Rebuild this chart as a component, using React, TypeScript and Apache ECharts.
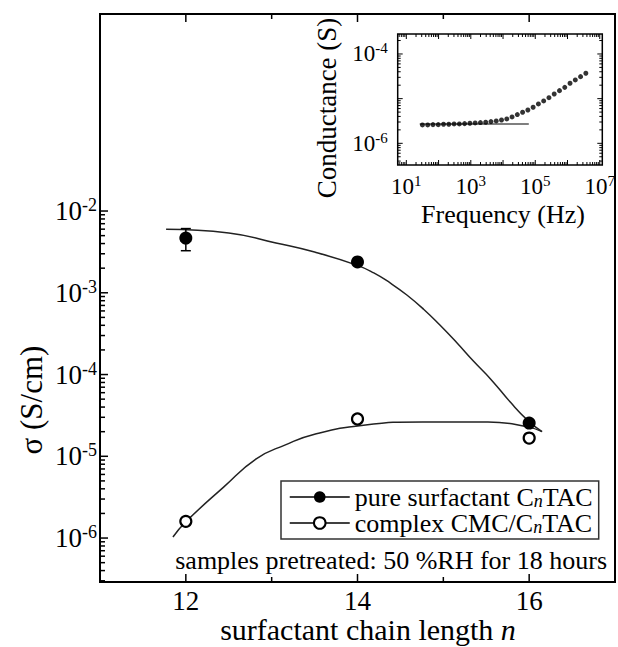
import React, { useEffect, useRef } from "react";
import * as echarts from "echarts";

const FONT = "Liberation Serif, Times New Roman, serif";

// ---------- main plot data ----------
const chainLength = [12, 14, 16];
const pureSigma = [4.67e-3, 2.38e-3, 2.55e-5];
const pureErrLow = [3.27e-3];
const pureErrHigh = [6.1e-3];
const complexSigma = [1.6e-6, 2.86e-5, 1.67e-5];

const pureFitN = [11.77, 12.5, 13.05, 13.5, 13.99, 14.19, 14.38, 14.575, 14.77, 14.96, 15.16, 15.35, 15.56, 15.78, 15.98, 16.15];
const pureFitSigma = [6.0e-3, 5.4e-3, 4.07e-3, 3.15e-3, 2.18e-3, 1.75e-3, 1.32e-3, 9.4e-4, 6.3e-4, 4.03e-4, 2.43e-4, 1.46e-4, 8.6e-5, 4.6e-5, 2.77e-5, 2.0e-5];

const complexFitN = [11.85, 12.0, 12.44, 12.82, 13.16, 13.5, 14.07, 14.76, 15.52, 15.98, 16.15];
const complexFitSigma = [1.03e-6, 1.58e-6, 4.2e-6, 9.3e-6, 1.38e-5, 1.86e-5, 2.4e-5, 2.63e-5, 2.63e-5, 2.29e-5, 2.0e-5];

const mainXMin = 11;
const mainXMax = 17;
const mainYMin = 2.9e-7;
const mainYMax = 2.57;
const mainXMajorTicks = [12, 14, 16];
const mainXMinorTicks = [13, 15];
const mainYMajorTicks = [1e-6, 1e-5, 1e-4, 1e-3, 1e-2];
const mainYLabelExps = [-6, -5, -4, -3, -2];

// ---------- inset data ----------
const frequencyHz = [31.6, 46.1, 67.1, 97.8, 142.6, 207.7, 302.7, 441, 642.7, 936.5, 1365, 1989, 2897, 4222, 6152, 8964, 13062, 19033, 27733, 40411, 58884, 85800, 125026, 182180, 265460, 386810, 563640, 821300, 1196700, 1743800, 2541000, 3702600];
const conductanceS = [2.58e-6, 2.58e-6, 2.62e-6, 2.62e-6, 2.67e-6, 2.67e-6, 2.72e-6, 2.72e-6, 2.76e-6, 2.81e-6, 2.86e-6, 2.91e-6, 2.96e-6, 3.06e-6, 3.17e-6, 3.33e-6, 3.51e-6, 3.9e-6, 4.4e-6, 4.96e-6, 5.58e-6, 6.41e-6, 7.61e-6, 8.89e-6, 1.05e-5, 1.27e-5, 1.51e-5, 1.79e-5, 2.21e-5, 2.62e-5, 3.11e-5, 3.7e-5];
const plateauFreq = [26, 6.3e4];
const plateauG = [2.7e-6, 2.7e-6];

const insetXMin = 5.4;
const insetXMax = 1.2e7;
const insetYMin = 3.27e-7;
const insetYMax = 2.8e-4;
const insetXMajorTicks = [10, 100, 1e3, 1e4, 1e5, 1e6, 1e7];
const insetYMajorTicks = [1e-6, 1e-5, 1e-4];
const insetXLabelExps = [1, 3, 5, 7];
const insetYLabelExps = [-6, -4];

const MANTISSAS = [2, 3, 4, 5, 6, 7, 8, 9];
function logMinor(lo: number, hi: number, decades: number[]) {
  const out: number[] = [];
  decades.forEach((d) => MANTISSAS.forEach((m) => {
    const v = m * Math.pow(10, d);
    if (v > lo && v < hi) out.push(v);
  }));
  return out;
}

const mainYMinorTicks = logMinor(mainYMin, 1e-2, [-7, -6, -5, -4, -3]);
const insetXMinorTicks = logMinor(insetXMin, insetXMax, [0, 1, 2, 3, 4, 5, 6]);
const insetYMinorTicks = logMinor(insetYMin, insetYMax, [-7, -6, -5, -4]);

function supFormatter(exps: number[]) {
  return (v: number) => {
    const e = Math.log10(v);
    const r = Math.round(e);
    if (Math.abs(e - r) > 1e-6 || exps.indexOf(r) < 0) return "";
    return `{b|10}{s|${r}}`;
  };
}

const tickRender = (lw: number) => (params: any, api: any) => {
  const p = api.coord([api.value(0), api.value(1)]);
  return {
    type: "line",
    shape: { x1: p[0], y1: p[1], x2: p[0] + api.value(2), y2: p[1] + api.value(3) },
    style: { stroke: "#000", lineWidth: lw },
  };
};

export default function App() {
  const ref = useRef<HTMLDivElement>(null);
  useEffect(() => {
    document.body.style.margin = "0";
    const chart = echarts.init(ref.current!, undefined, { renderer: "svg" });

    const mainTicks: number[][] = [];
    mainYMajorTicks.forEach((v) => mainTicks.push([mainXMin, v, 8, 0]));
    mainYMinorTicks.forEach((v) => mainTicks.push([mainXMin, v, 5, 0]));
    mainXMajorTicks.forEach((v) => {
      mainTicks.push([v, mainYMin, 0, -8]);
      mainTicks.push([v, mainYMax, 0, 8]);
    });
    mainXMinorTicks.forEach((v) => {
      mainTicks.push([v, mainYMin, 0, -5]);
      mainTicks.push([v, mainYMax, 0, 5]);
    });

    const insetTicks: number[][] = [];
    insetXMajorTicks.forEach((v) => {
      insetTicks.push([v, insetYMin, 0, -5]);
      insetTicks.push([v, insetYMax, 0, 5]);
    });
    insetXMinorTicks.forEach((v) => {
      insetTicks.push([v, insetYMin, 0, -3]);
      insetTicks.push([v, insetYMax, 0, 3]);
    });
    insetYMajorTicks.forEach((v) => {
      insetTicks.push([insetXMin, v, 5, 0]);
      insetTicks.push([insetXMax, v, -5, 0]);
    });
    insetYMinorTicks.forEach((v) => {
      insetTicks.push([insetXMin, v, 3, 0]);
      insetTicks.push([insetXMax, v, -3, 0]);
    });

    const mainRich = {
      b: { fontSize: 27, fontFamily: FONT, color: "#000", lineHeight: 30 },
      s: { fontSize: 18, fontFamily: FONT, color: "#000", lineHeight: 18, verticalAlign: "top" },
    };
    const insetRich = {
      b: { fontSize: 23, fontFamily: FONT, color: "#000", lineHeight: 26 },
      s: { fontSize: 15, fontFamily: FONT, color: "#000", lineHeight: 15, verticalAlign: "top" },
    };

    const legendRich = {
      t: { fontSize: 26, fontFamily: FONT, color: "#000", lineHeight: 25 },
      sub: { fontSize: 18, fontFamily: FONT, fontStyle: "italic", color: "#000", lineHeight: 25, verticalAlign: "bottom" },
    };

    const option: any = {
      animation: false,
      backgroundColor: "#fff",
      textStyle: { fontFamily: FONT },
      grid: [
        { left: 100, top: 14, width: 527, height: 568, show: true, borderColor: "#000", borderWidth: 2, backgroundColor: "transparent" },
        { left: 397.7, top: 34, width: 206.3, height: 131, show: true, borderColor: "#000", borderWidth: 1.5, backgroundColor: "#fff", z: 5 },
      ],
      xAxis: [
        {
          type: "value", gridIndex: 0, min: mainXMin, max: mainXMax, interval: 1,
          axisLine: { show: false }, axisTick: { show: false }, splitLine: { show: false },
          axisLabel: {
            margin: 5, color: "#000", fontSize: 27, fontFamily: FONT,
            formatter: (v: number) => (mainXMajorTicks.indexOf(v) >= 0 ? String(v) : ""),
          },
        },
        {
          type: "log", gridIndex: 1, min: insetXMin, max: insetXMax, logBase: 10,
          axisLine: { show: false }, axisTick: { show: false }, splitLine: { show: false },
          axisLabel: { margin: 8, fontFamily: FONT, formatter: supFormatter(insetXLabelExps), rich: insetRich },
        },
      ],
      yAxis: [
        {
          type: "log", gridIndex: 0, min: mainYMin, max: mainYMax, logBase: 10,
          axisLine: { show: false }, axisTick: { show: false }, splitLine: { show: false },
          axisLabel: { margin: 3, fontFamily: FONT, formatter: supFormatter(mainYLabelExps), rich: mainRich },
        },
        {
          type: "log", gridIndex: 1, min: insetYMin, max: insetYMax, logBase: 10,
          axisLine: { show: false }, axisTick: { show: false }, splitLine: { show: false },
          axisLabel: { margin: 10, fontFamily: FONT, formatter: supFormatter(insetYLabelExps), rich: insetRich },
        },
      ],
      legend: {
        data: ["pure surfactant CnTAC", "complex CMC/CnTAC"],
        orient: "vertical", left: 281, top: 481,
        itemWidth: 60, itemHeight: 14.5, itemGap: 0,
        padding: [3, 6, 3, 8],
        borderColor: "#333", borderWidth: 1.5, backgroundColor: "#fff",
        selectedMode: false,
        lineStyle: { color: "#000", width: 1.5, opacity: 1 },
        formatter: (name: string) =>
          name.startsWith("pure") ? "{t|pure surfactant C}{sub|n}{t|TAC}" : "{t|complex CMC/C}{sub|n}{t|TAC}",
        textStyle: { color: "#000", fontSize: 26, fontFamily: FONT, rich: legendRich },
      },
      graphic: [
        {
          type: "text", x: 607, y: 560,
          style: { text: "samples pretreated: 50 %RH for 18 hours", align: "right", verticalAlign: "middle", fontSize: 26, fontFamily: FONT, fill: "#000" },
        },
        {
          type: "text", x: 368, y: 629,
          style: {
            text: "{a|surfactant chain length }{i|n}", align: "center", verticalAlign: "middle",
            fontSize: 30, fontFamily: FONT,
            rich: {
              a: { fontSize: 30, fontFamily: FONT, fill: "#000" },
              i: { fontSize: 30, fontFamily: FONT, fontStyle: "italic", fill: "#000" },
            },
          },
        },
        {
          type: "text", x: 31, y: 400, rotation: Math.PI / 2,
          style: { text: "σ (S/cm)", align: "center", verticalAlign: "middle", fontSize: 31, fontFamily: FONT, fill: "#000" },
        },
        {
          type: "text", x: 327, y: 108, rotation: Math.PI / 2,
          style: { text: "Conductance (S)", align: "center", verticalAlign: "middle", fontSize: 27, fontFamily: FONT, fill: "#000" },
        },
        {
          type: "text", x: 503, y: 214,
          style: { text: "Frequency (Hz)", align: "center", verticalAlign: "middle", fontSize: 26, fontFamily: FONT, fill: "#000" },
        },
      ],
      series: [
        {
          type: "line", name: "pure fit", xAxisIndex: 0, yAxisIndex: 0, smooth: 0.5, showSymbol: false,
          lineStyle: { color: "#222", width: 1.5 }, data: pureFitN.map((n, i) => [n, pureFitSigma[i]]), z: 2,
        },
        {
          type: "line", name: "complex fit", xAxisIndex: 0, yAxisIndex: 0, smooth: 0.5, showSymbol: false,
          lineStyle: { color: "#222", width: 1.5 }, data: complexFitN.map((n, i) => [n, complexFitSigma[i]]), z: 2,
        },
        {
          type: "custom", name: "error", xAxisIndex: 0, yAxisIndex: 0,
          dimensions: ["x", "lo", "hi"], encode: { x: 0, y: [1, 2] },
          data: pureErrLow.map((lo, i) => [chainLength[i], lo, pureErrHigh[i]]),
          renderItem: (params: any, api: any) => {
            const lo = api.coord([api.value(0), api.value(1)]);
            const hi = api.coord([api.value(0), api.value(2)]);
            const w = 5;
            const st = { stroke: "#000", lineWidth: 1.5 };
            return {
              type: "group",
              children: [
                { type: "line", shape: { x1: lo[0], y1: lo[1], x2: hi[0], y2: hi[1] }, style: st },
                { type: "line", shape: { x1: lo[0] - w, y1: lo[1], x2: lo[0] + w, y2: lo[1] }, style: st },
                { type: "line", shape: { x1: hi[0] - w, y1: hi[1], x2: hi[0] + w, y2: hi[1] }, style: st },
              ],
            };
          },
          z: 3,
        },
        {
          type: "line", name: "pure surfactant CnTAC", xAxisIndex: 0, yAxisIndex: 0,
          symbol: "circle", symbolSize: 13, lineStyle: { opacity: 0, width: 0 },
          itemStyle: { color: "#000" },
          data: chainLength.map((n, i) => [n, pureSigma[i]]), z: 4,
        },
        {
          type: "line", name: "complex CMC/CnTAC", xAxisIndex: 0, yAxisIndex: 0,
          symbol: "circle", symbolSize: 11, lineStyle: { opacity: 0, width: 0 },
          itemStyle: { color: "#fff", borderColor: "#000", borderWidth: 2.2 },
          data: chainLength.map((n, i) => [n, complexSigma[i]]), z: 4,
        },
        {
          type: "custom", name: "mainTicks", xAxisIndex: 0, yAxisIndex: 0,
          dimensions: ["x", "y", "dx", "dy"], encode: { x: 0, y: 1 },
          data: mainTicks, renderItem: tickRender(1.5), silent: true, z: 6,
        },
        {
          type: "line", name: "plateau", xAxisIndex: 1, yAxisIndex: 1, showSymbol: false,
          lineStyle: { color: "#555", width: 1.5 }, data: plateauFreq.map((f, i) => [f, plateauG[i]]), z: 7,
        },
        {
          type: "scatter", name: "conductance", xAxisIndex: 1, yAxisIndex: 1,
          symbol: "circle", symbolSize: 5, itemStyle: { color: "#000" },
          data: frequencyHz.map((f, i) => [f, conductanceS[i]]), z: 8,
        },
        {
          type: "custom", name: "insetTicks", xAxisIndex: 1, yAxisIndex: 1,
          dimensions: ["x", "y", "dx", "dy"], encode: { x: 0, y: 1 },
          data: insetTicks, renderItem: tickRender(1), silent: true, z: 9,
        },
      ],
    };

    chart.setOption(option);
    return () => chart.dispose();
  }, []);
  return <div ref={ref} style={{ position: "absolute", left: 0, top: 0, width: 618, height: 647, background: "#fff" }} />;
}
